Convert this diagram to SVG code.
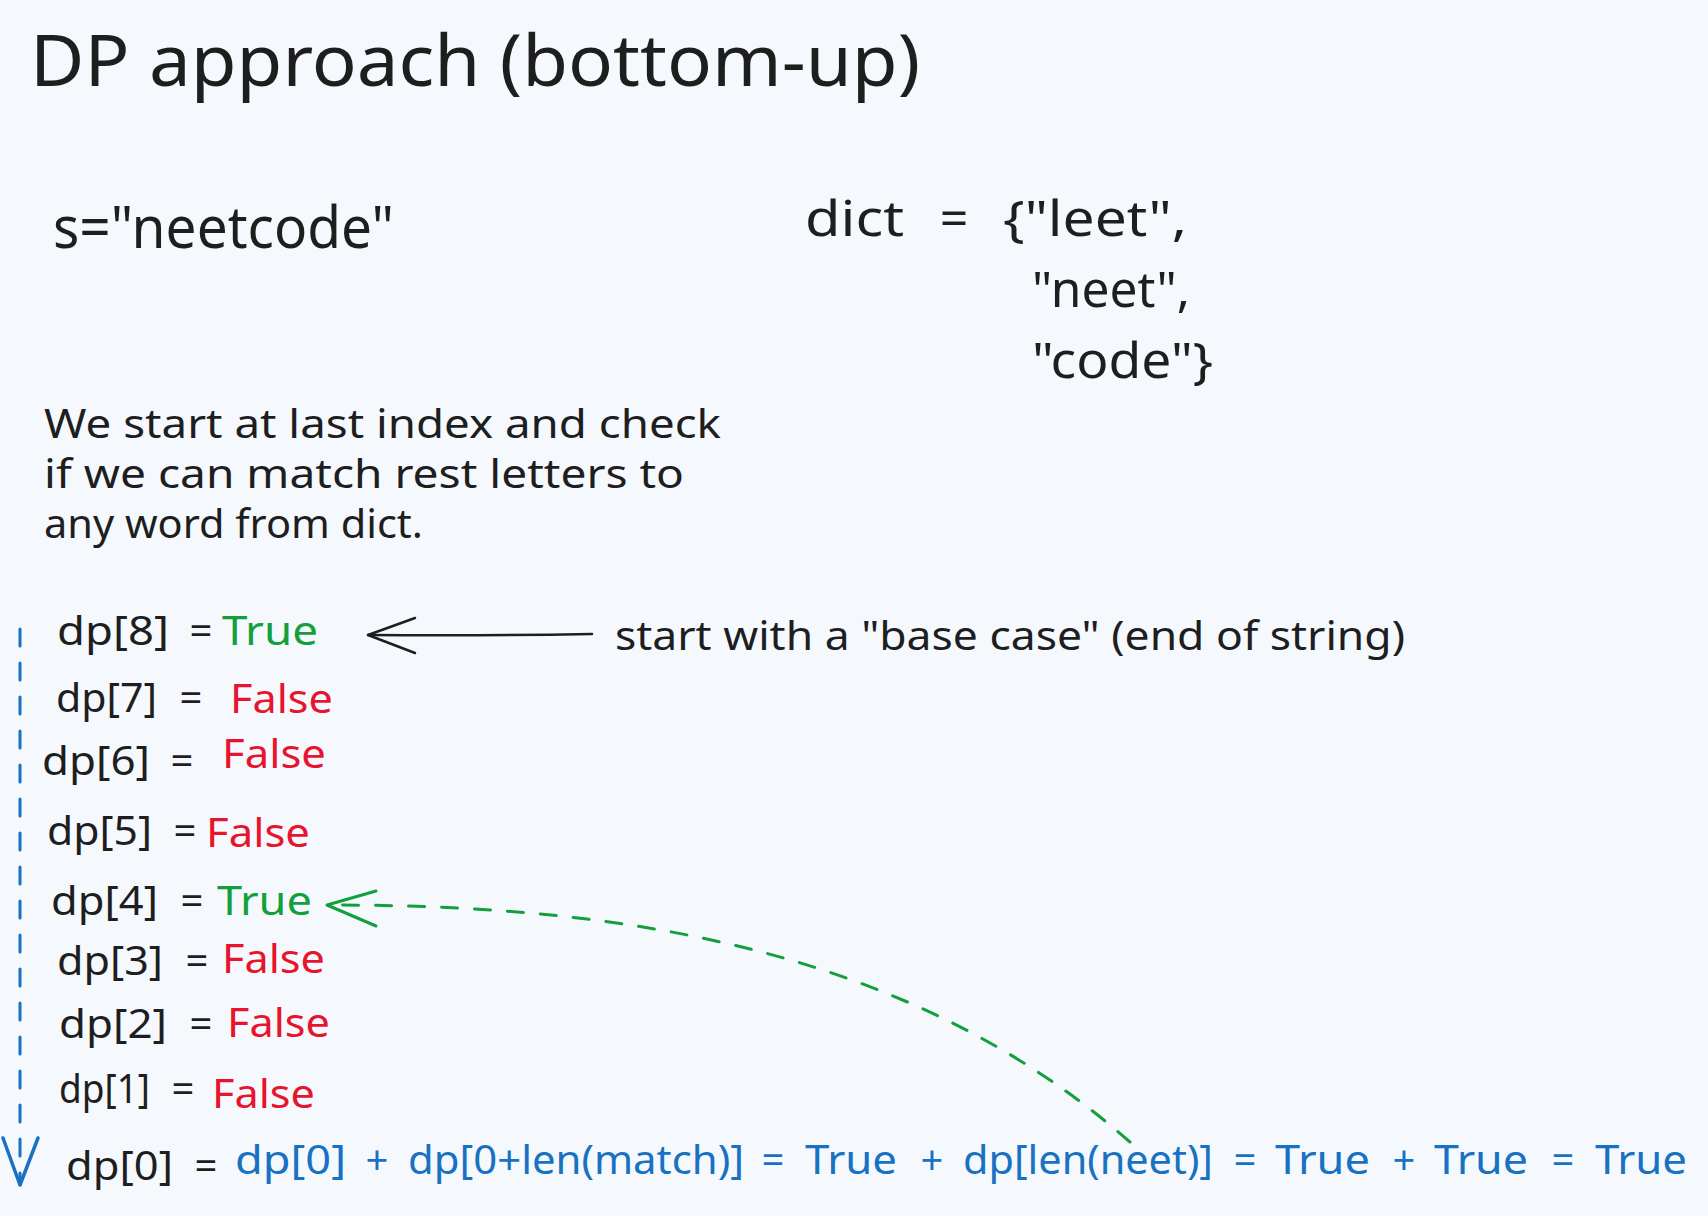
<svg xmlns="http://www.w3.org/2000/svg" width="1708" height="1216" viewBox="0 0 1708 1216">
<style>
text{font-family:"Noto Sans","Liberation Sans",sans-serif;fill:#1e1e1e}
.t40{font-size:40px}
.t58{font-size:58px}
.t50{font-size:50px}
.title{font-size:72px}
.g{fill:#13a03c}
.r{fill:#e8142d}
.b{fill:#1971c2}
.eq{text-anchor:middle}
.ln{fill:none;stroke-linecap:round;stroke-linejoin:round}
</style>
<rect width="1708" height="1216" fill="#f5f9fe"/>
<g id="title"><text class="title" x="30" y="86" textLength="890" lengthAdjust="spacingAndGlyphs">DP approach (bottom-up)</text></g>
<g id="s-string"><text class="t58" x="53" y="248" textLength="341" lengthAdjust="spacingAndGlyphs">s="neetcode"</text></g>
<g id="dict">
<text class="t50" x="805" y="236" textLength="99" lengthAdjust="spacingAndGlyphs">dict</text>
<text class="t50 eq" x="954" y="236">=</text>
<text class="t50" x="1003" y="236" textLength="184" lengthAdjust="spacingAndGlyphs">{"leet",</text>
<text class="t50" x="1032" y="307" textLength="158" lengthAdjust="spacingAndGlyphs">"neet",</text>
<text class="t50" x="1032" y="378" textLength="181" lengthAdjust="spacingAndGlyphs">"code"}</text>
</g>
<g id="explanation">
<text class="t40" x="44" y="438" textLength="677" lengthAdjust="spacingAndGlyphs">We start at last index and check</text>
<text class="t40" x="44" y="488" textLength="640" lengthAdjust="spacingAndGlyphs">if we can match rest letters to</text>
<text class="t40" x="44" y="538" textLength="379" lengthAdjust="spacingAndGlyphs">any word from dict.</text>
</g>
<g id="base-case-note"><text class="t40" x="615" y="650" textLength="790" lengthAdjust="spacingAndGlyphs">start with a "base case" (end of string)</text></g>
<g id="dp8"><text class="t40" x="57" y="645" textLength="112" lengthAdjust="spacingAndGlyphs">dp[8]</text><text class="t40 eq" x="201" y="645">=</text><text class="t40 g" x="222" y="645" textLength="96" lengthAdjust="spacingAndGlyphs">True</text></g>
<g id="dp7"><text class="t40" x="56" y="712" textLength="101" lengthAdjust="spacingAndGlyphs">dp[7]</text><text class="t40 eq" x="191" y="712">=</text><text class="t40 r" x="230" y="713" textLength="103" lengthAdjust="spacingAndGlyphs">False</text></g>
<g id="dp6"><text class="t40" x="42" y="775" textLength="108" lengthAdjust="spacingAndGlyphs">dp[6]</text><text class="t40 eq" x="182" y="775">=</text><text class="t40 r" x="222" y="768" textLength="104" lengthAdjust="spacingAndGlyphs">False</text></g>
<g id="dp5"><text class="t40" x="47" y="845" textLength="105" lengthAdjust="spacingAndGlyphs">dp[5]</text><text class="t40 eq" x="185" y="845">=</text><text class="t40 r" x="206" y="847" textLength="104" lengthAdjust="spacingAndGlyphs">False</text></g>
<g id="dp4"><text class="t40" x="51" y="915" textLength="107" lengthAdjust="spacingAndGlyphs">dp[4]</text><text class="t40 eq" x="192" y="915">=</text><text class="t40 g" x="217" y="915" textLength="95" lengthAdjust="spacingAndGlyphs">True</text></g>
<g id="dp3"><text class="t40" x="57" y="975" textLength="106" lengthAdjust="spacingAndGlyphs">dp[3]</text><text class="t40 eq" x="197" y="975">=</text><text class="t40 r" x="222" y="973" textLength="103" lengthAdjust="spacingAndGlyphs">False</text></g>
<g id="dp2"><text class="t40" x="59" y="1038" textLength="108" lengthAdjust="spacingAndGlyphs">dp[2]</text><text class="t40 eq" x="201" y="1038">=</text><text class="t40 r" x="227" y="1037" textLength="103" lengthAdjust="spacingAndGlyphs">False</text></g>
<g id="dp1"><text class="t40" x="59" y="1103" textLength="91" lengthAdjust="spacingAndGlyphs">dp[1]</text><text class="t40 eq" x="183" y="1103">=</text><text class="t40 r" x="212" y="1108" textLength="103" lengthAdjust="spacingAndGlyphs">False</text></g>
<g id="dp0">
<text class="t40" x="66" y="1180" textLength="107" lengthAdjust="spacingAndGlyphs">dp[0]</text><text class="t40 eq" x="206" y="1180">=</text>
<text class="t40 b" x="235" y="1174" textLength="111" lengthAdjust="spacingAndGlyphs">dp[0]</text>
<text class="t40 b eq" x="377" y="1174">+</text>
<text class="t40 b" x="408" y="1174" textLength="336" lengthAdjust="spacingAndGlyphs">dp[0+len(match)]</text>
<text class="t40 b eq" x="773" y="1174">=</text>
<text class="t40 b" x="805" y="1174" textLength="92" lengthAdjust="spacingAndGlyphs">True</text>
<text class="t40 b eq" x="932" y="1174">+</text>
<text class="t40 b" x="963" y="1174" textLength="250" lengthAdjust="spacingAndGlyphs">dp[len(neet)]</text>
<text class="t40 b eq" x="1245" y="1174">=</text>
<text class="t40 b" x="1275" y="1174" textLength="95" lengthAdjust="spacingAndGlyphs">True</text>
<text class="t40 b eq" x="1404" y="1174">+</text>
<text class="t40 b" x="1434" y="1174" textLength="94" lengthAdjust="spacingAndGlyphs">True</text>
<text class="t40 b eq" x="1563" y="1174">=</text>
<text class="t40 b" x="1595" y="1174" textLength="92" lengthAdjust="spacingAndGlyphs">True</text>
</g>
<g id="connectors">
<g id="base-case-arrow" class="ln" stroke="#1e1e1e" stroke-width="2.5">
<path d="M592 634 Q480 636 368 635"/>
<polyline points="415,618 368,635 415,653"/>
</g>
<g id="iteration-arrow" class="ln" stroke="#1971c2">
<path d="M20 629 L20 1183" stroke-width="3" stroke-dasharray="17 17"/>
<polyline points="3,1138 20,1185 38,1138" stroke-width="3.5"/>
</g>
<g id="match-arrow" class="ln" stroke="#13a03c">
<path d="M1130 1142 C900 940 600 905 330 905" stroke-width="3" stroke-dasharray="16 17"/>
<polyline points="376,891 327,905 376,926" stroke-width="3"/>
</g>
</g>
</svg>
